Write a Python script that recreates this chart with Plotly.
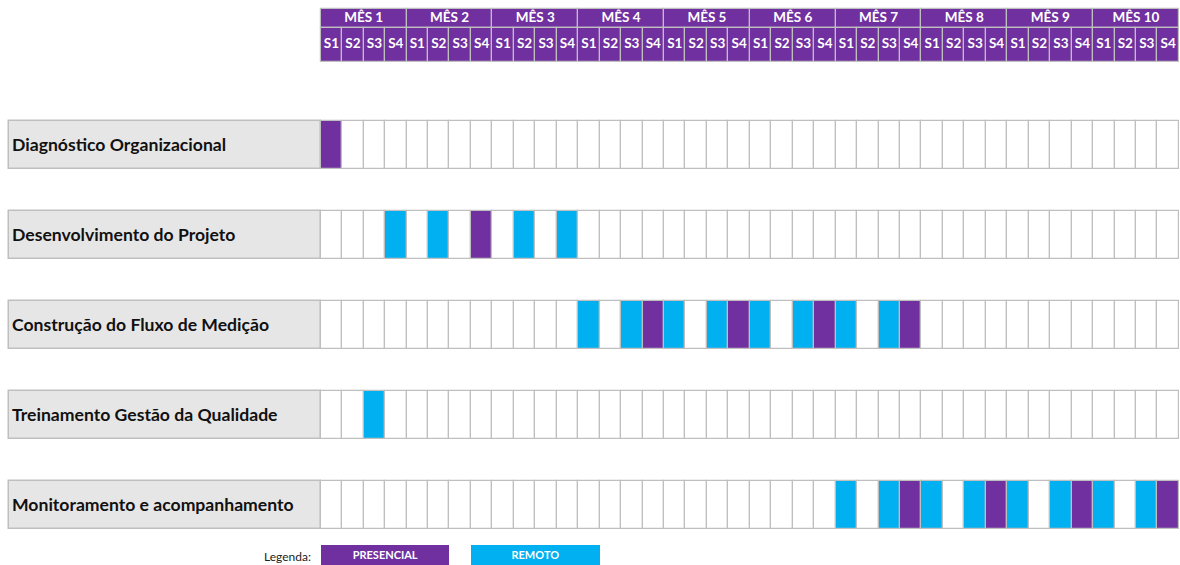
import plotly.graph_objects as go

# ---------------- data ----------------
activities = [
    "Diagnóstico Organizacional",
    "Desenvolvimento do Projeto",
    "Construção do Fluxo de Medição",
    "Treinamento Gestão da Qualidade",
    "Monitoramento e acompanhamento",
]
month_labels = ["MÊS 1", "MÊS 2", "MÊS 3", "MÊS 4", "MÊS 5",
                "MÊS 6", "MÊS 7", "MÊS 8", "MÊS 9", "MÊS 10"]
week_labels = ["S1", "S2", "S3", "S4"]
# week indices (0-based over the 40 weeks) per activity
presencial_weeks = [
    [0],
    [7],
    [15, 19, 23, 27],
    [],
    [27, 31, 35, 39],
]
remoto_weeks = [
    [],
    [3, 5, 9, 11],
    [12, 14, 16, 18, 20, 22, 24, 26],
    [2],
    [24, 26, 28, 30, 32, 34, 36, 38],
]
legend_labels = ["PRESENCIAL", "REMOTO"]
legend_title = "Legenda:"

# ---------------- styles ----------------
PURPLE = "#7030A0"
CYAN = "#00B0F0"
GRID = "#BFBFBF"
LABEL_BG = "#E7E6E6"
FONT = "Lato"

n_weeks = len(month_labels) * len(week_labels)
ROW_H = 0.5333
LABEL_LEFT = -14.53

fig = go.Figure()

# label boxes
fig.add_trace(go.Bar(
    orientation="h", y=list(range(len(activities))),
    base=[LABEL_LEFT] * len(activities), x=[-LABEL_LEFT] * len(activities),
    width=ROW_H, marker=dict(color=LABEL_BG, line=dict(color=GRID, width=1.5)),
    hoverinfo="skip", showlegend=False))

# cells
for r, name in enumerate(activities):
    colors = []
    for w in range(n_weeks):
        if w in presencial_weeks[r]:
            colors.append(PURPLE)
        elif w in remoto_weeks[r]:
            colors.append(CYAN)
        else:
            colors.append("white")
    fig.add_trace(go.Bar(
        orientation="h", y=[r] * n_weeks, base=list(range(n_weeks)),
        x=[1] * n_weeks, width=ROW_H,
        marker=dict(color=colors, line=dict(color=GRID, width=1.2)),
        hoverinfo="skip", showlegend=False))

# header: months
MONTH_Y, MONTH_H = -1.404, 0.214
WEEK_Y, WEEK_H = -1.111, 0.371
nm = len(month_labels)
nw = len(week_labels)
fig.add_trace(go.Bar(
    orientation="h", y=[MONTH_Y] * nm, base=[i * nw for i in range(nm)],
    x=[nw] * nm, width=MONTH_H,
    marker=dict(color=PURPLE, line=dict(color=GRID, width=1.2)),
    hoverinfo="skip", showlegend=False))
fig.add_trace(go.Bar(
    orientation="h", y=[WEEK_Y] * n_weeks, base=list(range(n_weeks)),
    x=[1] * n_weeks, width=WEEK_H,
    marker=dict(color=PURPLE, line=dict(color=GRID, width=1.2)),
    hoverinfo="skip", showlegend=False))
fig.add_trace(go.Scatter(
    x=[i * nw + nw / 2 for i in range(nm)], y=[MONTH_Y] * nm,
    text=month_labels, mode="text",
    textfont=dict(family=FONT, size=13.5, color="white", weight="bold"),
    hoverinfo="skip", showlegend=False))
fig.add_trace(go.Scatter(
    x=[w + 0.5 for w in range(n_weeks)], y=[WEEK_Y] * n_weeks,
    text=[week_labels[w % nw] for w in range(n_weeks)], mode="text",
    textfont=dict(family=FONT, size=13.5, color="white", weight="bold"),
    hoverinfo="skip", showlegend=False))

# row labels
for r, name in enumerate(activities):
    fig.add_annotation(x=LABEL_LEFT + 0.05, y=r, xref="x", yref="y", text=name,
                       showarrow=False, xanchor="left", yanchor="middle",
                       font=dict(family=FONT, size=17.6, color="#111111", weight="bold"))

# legend
LEG_Y, LEG_H = 4.57, 0.24
fig.add_trace(go.Bar(
    orientation="h", y=[LEG_Y, LEG_Y], base=[0, 7], x=[6, 6], width=LEG_H,
    marker=dict(color=[PURPLE, CYAN], line=dict(width=0)),
    hoverinfo="skip", showlegend=False))
fig.add_trace(go.Scatter(
    x=[3, 10], y=[4.575, 4.575], text=legend_labels, mode="text",
    textfont=dict(family=FONT, size=11, color="white", weight="bold"),
    hoverinfo="skip", showlegend=False))
fig.add_annotation(x=-0.35, y=4.575, xref="x", yref="y", text=legend_title,
                   showarrow=False, xanchor="right", yanchor="middle",
                   font=dict(family=FONT, size=12, color="#222222"))

fig.update_layout(
    width=1180, height=565,
    margin=dict(l=0, r=0, t=0, b=0),
    paper_bgcolor="white", plot_bgcolor="white",
    barmode="overlay", bargap=0,
    xaxis=dict(range=[-14.95, 40.05], visible=False, fixedrange=True),
    yaxis=dict(range=[4.667, -1.611], visible=False, fixedrange=True),
)

fig.write_html("out.html", config={"displayModeBar": False},
               post_script="document.body.style.margin='0';document.body.style.overflow='hidden';")
